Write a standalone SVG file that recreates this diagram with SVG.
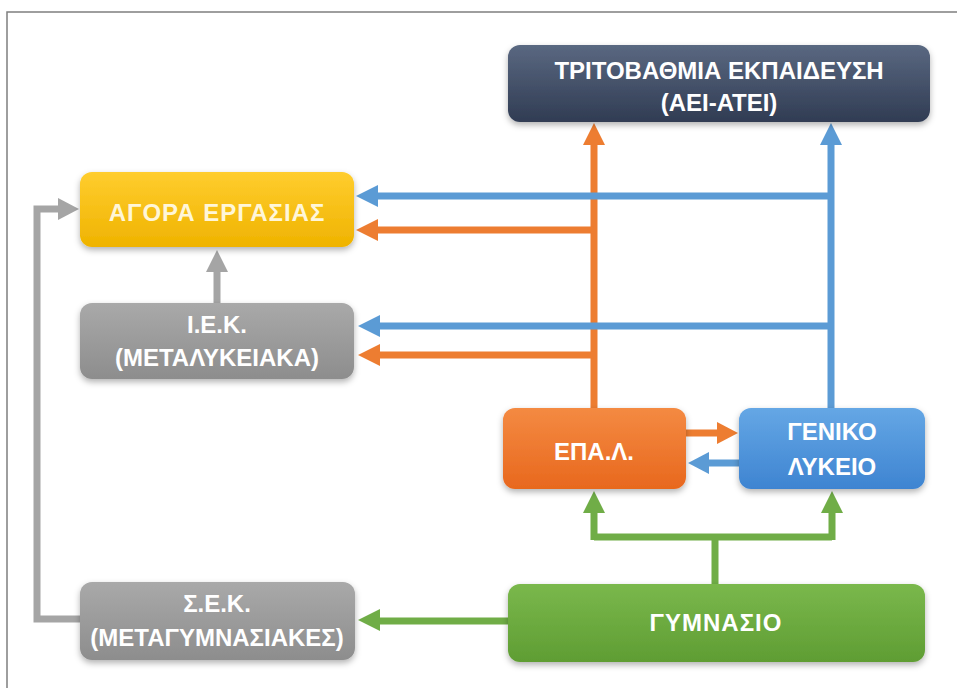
<svg xmlns="http://www.w3.org/2000/svg" width="957" height="688" viewBox="0 0 957 688">
<style>
.t{font-family:"Liberation Sans","DejaVu Sans",sans-serif;font-weight:bold;font-size:24px;fill:#ffffff;text-anchor:middle}
.o{stroke:#ed7d31;fill:none;stroke-width:7}
.b{stroke:#5b9bd5;fill:none;stroke-width:7}
.g{stroke:#70ad47;fill:none;stroke-width:7}
.y{stroke:#a5a5a5;fill:none;stroke-width:7}
</style>
<defs>
<filter id="sh" x="-10%" y="-20%" width="120%" height="150%">
<feDropShadow dx="0" dy="3" stdDeviation="3" flood-color="#000" flood-opacity="0.3"/>
</filter>
<linearGradient id="gDark" x1="0" y1="0" x2="0" y2="1"><stop offset="0" stop-color="#5a6881"/><stop offset="1" stop-color="#303c53"/></linearGradient>
<linearGradient id="gYel" x1="0" y1="0" x2="0" y2="1"><stop offset="0" stop-color="#ffcd2e"/><stop offset="1" stop-color="#efb300"/></linearGradient>
<linearGradient id="gGray" x1="0" y1="0" x2="0" y2="1"><stop offset="0" stop-color="#a9a9a9"/><stop offset="1" stop-color="#8d8d8d"/></linearGradient>
<linearGradient id="gOr" x1="0" y1="0" x2="0" y2="1"><stop offset="0" stop-color="#f48a42"/><stop offset="1" stop-color="#e8681e"/></linearGradient>
<linearGradient id="gBl" x1="0" y1="0" x2="0" y2="1"><stop offset="0" stop-color="#65a7e5"/><stop offset="1" stop-color="#3e84d1"/></linearGradient>
<linearGradient id="gGr" x1="0" y1="0" x2="0" y2="1"><stop offset="0" stop-color="#7ab84c"/><stop offset="1" stop-color="#5f9d33"/></linearGradient>
</defs>
<rect x="0" y="0" width="957" height="688" fill="#ffffff"/>
<rect x="7" y="12" width="970" height="700" fill="none" stroke="#7f7f7f" stroke-width="1.5"/>

<g id="connectors">
<path class="o" d="M594,408 V143"/>
<polygon points="583,145 605,145 594,123" fill="#ed7d31"/>
<path class="b" d="M831,408 V143"/>
<polygon points="820,145 842,145 831,123" fill="#5b9bd5"/>
<path class="b" d="M831,196 H376"/>
<polygon points="378,185 378,207 356,196" fill="#5b9bd5"/>
<path class="o" d="M594,230 H376"/>
<polygon points="378,219 378,241 356,230" fill="#ed7d31"/>
<path class="b" d="M831,326 H378"/>
<polygon points="380,315 380,337 358,326" fill="#5b9bd5"/>
<path class="o" d="M594,355 H378"/>
<polygon points="380,344 380,366 358,355" fill="#ed7d31"/>
<path class="y" d="M217,303 V270"/>
<polygon points="206,272 228,272 217,250" fill="#a5a5a5"/>
<path class="y" d="M82,619 H37 V209 H60"/>
<polygon points="58,198 58,220 79,209" fill="#a5a5a5"/>
<path class="o" d="M686,433 H719"/>
<polygon points="717,422 717,444 738,433" fill="#ed7d31"/>
<path class="b" d="M739,463 H707"/>
<polygon points="709,452 709,474 688,463" fill="#5b9bd5"/>
<path class="g" d="M715,584 V537 M594,537 H832 M594,540 V511 M832,540 V511"/>
<polygon points="583,513 605,513 594,491" fill="#70ad47"/>
<polygon points="821,513 843,513 832,491" fill="#70ad47"/>
<path class="g" d="M508,621 H378"/>
<polygon points="380,609 380,631 358,620" fill="#70ad47"/>
</g>

<g id="tritovathmia">
<rect x="508" y="45" width="422" height="77" rx="12" fill="url(#gDark)" filter="url(#sh)"/>
<text class="t" x="719" y="79">ΤΡΙΤΟΒΑΘΜΙΑ ΕΚΠΑΙΔΕΥΣΗ</text>
<text class="t" x="719" y="111">(ΑΕΙ-ΑΤΕΙ)</text>
</g>
<g id="agora">
<rect x="80" y="172" width="274" height="75" rx="12" fill="url(#gYel)" filter="url(#sh)"/>
<text class="t" x="217" y="221" style="fill:#fff6d8;letter-spacing:1px">ΑΓΟΡΑ ΕΡΓΑΣΙΑΣ</text>
</g>
<g id="iek">
<rect x="80" y="303" width="274" height="76" rx="12" fill="url(#gGray)" filter="url(#sh)"/>
<text class="t" x="217" y="333">Ι.Ε.Κ.</text>
<text class="t" x="217" y="366">(ΜΕΤΑΛΥΚΕΙΑΚΑ)</text>
</g>
<g id="epal">
<rect x="503" y="408" width="183" height="81" rx="12" fill="url(#gOr)" filter="url(#sh)"/>
<text class="t" x="594" y="460">ΕΠΑ.Λ.</text>
</g>
<g id="lykeio">
<rect x="739" y="408" width="186" height="81" rx="12" fill="url(#gBl)" filter="url(#sh)"/>
<text class="t" x="832" y="440">ΓΕΝΙΚΟ</text>
<text class="t" x="832" y="475">ΛΥΚΕΙΟ</text>
</g>
<g id="sek">
<rect x="80" y="582" width="275" height="78" rx="12" fill="url(#gGray)" filter="url(#sh)"/>
<text class="t" x="217" y="612">Σ.Ε.Κ.</text>
<text class="t" x="217" y="646">(ΜΕΤΑΓΥΜΝΑΣΙΑΚΕΣ)</text>
</g>
<g id="gymnasio">
<rect x="508" y="584" width="417" height="78" rx="12" fill="url(#gGr)" filter="url(#sh)"/>
<text class="t" x="716" y="631" style="letter-spacing:1px">ΓΥΜΝΑΣΙΟ</text>
</g>
</svg>
